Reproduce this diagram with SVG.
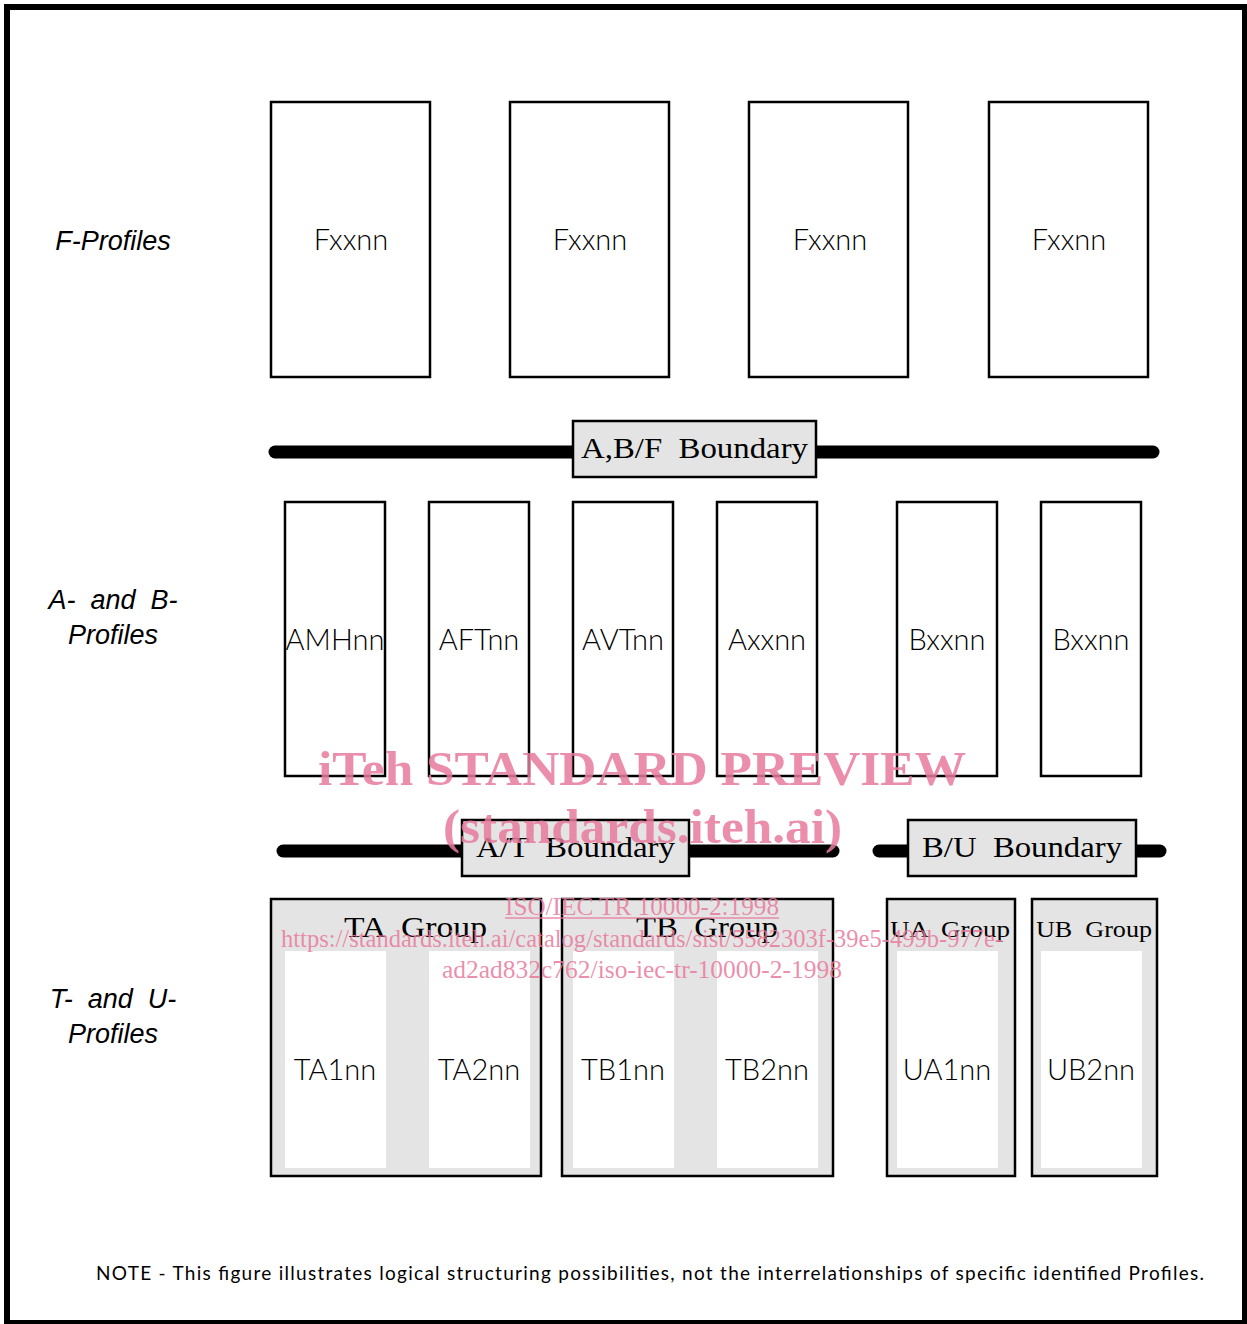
<svg xmlns="http://www.w3.org/2000/svg" width="1247" height="1324" viewBox="0 0 1247 1324">
<style>
.box{fill:#fff;stroke:#000;stroke-width:2.5}
.grp{fill:#e4e4e4;stroke:#000;stroke-width:2.5}
.inner{fill:#fff}
.bnd{fill:#e4e4e4;stroke:#000;stroke-width:2.5}
.bar{stroke:#000;stroke-width:13;stroke-linecap:round;fill:none}
.lbl{font-family:Lato,"DejaVu Sans",sans-serif;font-weight:300;font-size:29px;fill:#000;text-anchor:middle}
.side{font-family:"Liberation Sans",Arial,sans-serif;font-style:italic;font-size:27px;fill:#000;text-anchor:middle}
.ser{font-family:"Liberation Serif","Times New Roman",serif;font-size:30px;fill:#000}
.wm{font-family:"Liberation Serif","Times New Roman",serif;fill:#e87a9c;fill-opacity:0.85}
</style>
<rect x="7" y="7" width="1238" height="1316" fill="#fff" stroke="#000" stroke-width="6"/>

<g id="connectors">
<line class="bar" x1="275" y1="452" x2="1153" y2="452"/>
<line class="bar" x1="283" y1="851" x2="833" y2="851"/>
<line class="bar" x1="879" y1="851" x2="1160" y2="851"/>
</g>

<g id="side-labels">
<text class="side" x="113" y="250">F-Profiles</text>
<text class="side" x="113" y="609" xml:space="preserve">A-  and  B-</text>
<text class="side" x="113" y="644">Profiles</text>
<text class="side" x="113" y="1008" xml:space="preserve">T-  and  U-</text>
<text class="side" x="113" y="1043">Profiles</text>
</g>

<g id="F1"><rect class="box" x="271" y="102" width="159" height="275"/><text class="lbl" x="351" y="250">Fxxnn</text></g>
<g id="F2"><rect class="box" x="510" y="102" width="159" height="275"/><text class="lbl" x="590" y="250">Fxxnn</text></g>
<g id="F3"><rect class="box" x="749" y="102" width="159" height="275"/><text class="lbl" x="830" y="250">Fxxnn</text></g>
<g id="F4"><rect class="box" x="989" y="102" width="159" height="275"/><text class="lbl" x="1069" y="250">Fxxnn</text></g>

<g id="ABF-boundary"><rect class="bnd" x="573" y="421" width="243" height="56"/><text class="ser" x="581" y="458" textLength="227" lengthAdjust="spacingAndGlyphs" xml:space="preserve">A,B/F  Boundary</text></g>

<g id="AMH"><rect class="box" x="285" y="502" width="100" height="274"/><text class="lbl" x="335" y="650">AMHnn</text></g>
<g id="AFT"><rect class="box" x="429" y="502" width="100" height="274"/><text class="lbl" x="479" y="650">AFTnn</text></g>
<g id="AVT"><rect class="box" x="573" y="502" width="100" height="274"/><text class="lbl" x="623" y="650">AVTnn</text></g>
<g id="Axx"><rect class="box" x="717" y="502" width="100" height="274"/><text class="lbl" x="767" y="650">Axxnn</text></g>
<g id="Bxx1"><rect class="box" x="897" y="502" width="100" height="274"/><text class="lbl" x="947" y="650">Bxxnn</text></g>
<g id="Bxx2"><rect class="box" x="1041" y="502" width="100" height="274"/><text class="lbl" x="1091" y="650">Bxxnn</text></g>

<g id="AT-boundary"><rect class="bnd" x="462" y="820" width="227" height="56"/><text class="ser" x="476" y="857" textLength="199" lengthAdjust="spacingAndGlyphs" xml:space="preserve">A/T  Boundary</text></g>
<g id="BU-boundary"><rect class="bnd" x="908" y="820" width="228" height="56"/><text class="ser" x="922" y="857" textLength="200" lengthAdjust="spacingAndGlyphs" xml:space="preserve">B/U  Boundary</text></g>

<g id="TA-group">
<rect class="grp" x="271" y="899" width="270" height="277"/>
<text class="ser" x="344" y="937" textLength="143" lengthAdjust="spacingAndGlyphs" xml:space="preserve">TA  Group</text>
<rect class="inner" x="285" y="951" width="101" height="217"/>
<rect class="inner" x="429" y="951" width="101" height="217"/>
<text class="lbl" x="335" y="1080">TA1nn</text>
<text class="lbl" x="479" y="1080">TA2nn</text>
</g>
<g id="TB-group">
<rect class="grp" x="562" y="899" width="271" height="277"/>
<text class="ser" x="636" y="937" textLength="142" lengthAdjust="spacingAndGlyphs" xml:space="preserve">TB  Group</text>
<rect class="inner" x="573" y="951" width="101" height="217"/>
<rect class="inner" x="717" y="951" width="101" height="217"/>
<text class="lbl" x="623" y="1080">TB1nn</text>
<text class="lbl" x="767" y="1080">TB2nn</text>
</g>
<g id="UA-group">
<rect class="grp" x="887" y="899" width="128" height="277"/>
<text class="ser" x="890" y="937" style="font-size:24px" textLength="120" lengthAdjust="spacingAndGlyphs" xml:space="preserve">UA  Group</text>
<rect class="inner" x="897" y="951" width="101" height="217"/>
<text class="lbl" x="947" y="1080">UA1nn</text>
</g>
<g id="UB-group">
<rect class="grp" x="1032" y="899" width="125" height="277"/>
<text class="ser" x="1036" y="937" style="font-size:24px" textLength="116" lengthAdjust="spacingAndGlyphs" xml:space="preserve">UB  Group</text>
<rect class="inner" x="1041" y="951" width="101" height="217"/>
<text class="lbl" x="1091" y="1080">UB2nn</text>
</g>

<g id="note">
<text x="96" y="1280" font-family="Lato,'DejaVu Sans',sans-serif" font-size="19" fill="#000" textLength="1108" lengthAdjust="spacing">NOTE - This figure illustrates logical structuring possibilities, not the interrelationships of specific identified Profiles.</text>
</g>

<g id="watermark">
<text class="wm" x="318" y="785" font-size="48" font-weight="bold" textLength="648" lengthAdjust="spacingAndGlyphs">iTeh STANDARD PREVIEW</text>
<text class="wm" x="443" y="843" font-size="48" font-weight="bold" textLength="399" lengthAdjust="spacingAndGlyphs">(standards.iteh.ai)</text>
<text class="wm" x="505" y="915" font-size="25" textLength="274" lengthAdjust="spacingAndGlyphs">ISO/IEC TR 10000-2:1998</text>
<line x1="505" y1="918" x2="779" y2="918" stroke="#e87a9c" stroke-opacity="0.85" stroke-width="1.5"/>
<text class="wm" x="281" y="947" font-size="25" textLength="722" lengthAdjust="spacingAndGlyphs">https://standards.iteh.ai/catalog/standards/sist/5582303f-39e5-499b-977e-</text>
<text class="wm" x="442" y="978" font-size="25" textLength="400" lengthAdjust="spacingAndGlyphs">ad2ad832c762/iso-iec-tr-10000-2-1998</text>
</g>
</svg>
